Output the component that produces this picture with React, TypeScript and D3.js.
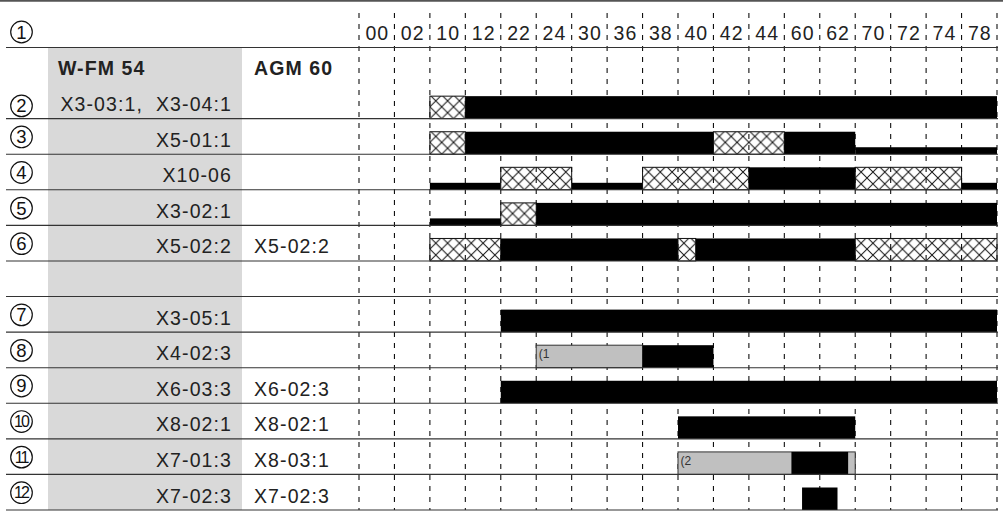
import React from "react";
import * as d3 from "d3";

const columnLabels = ["00","02","10","12","22","24","30","36","38","40","42","44","60","62","70","72","74","78"];
// layout rows: 0 = heading sub-row, 6 = empty spacer row
const rowNumbers: (number | null)[] = [null, 2, 3, 4, 5, 6, null, 7, 8, 9, 10, 11, 12];
const wfmLabels = ["W-FM 54", "X3-03:1,  X3-04:1", "X5-01:1", "X10-06", "X3-02:1", "X5-02:2", "", "X3-05:1", "X4-02:3", "X6-03:3", "X8-02:1", "X7-01:3", "X7-02:3"];
const agmLabels = ["AGM 60", "", "", "", "", "X5-02:2", "", "", "", "X6-02:3", "X8-02:1", "X8-03:1", "X7-02:3"];

type Kind = "full" | "thin" | "hatch" | "gray";
const segments: { row: number; start: number; end: number; kind: Kind }[] = [
  { row: 1, start: 2, end: 3, kind: "hatch" },
  { row: 1, start: 3, end: 18, kind: "full" },
  { row: 2, start: 2, end: 3, kind: "hatch" },
  { row: 2, start: 3, end: 10, kind: "full" },
  { row: 2, start: 10, end: 12, kind: "hatch" },
  { row: 2, start: 12, end: 14, kind: "full" },
  { row: 2, start: 14, end: 18, kind: "thin" },
  { row: 3, start: 2, end: 4, kind: "thin" },
  { row: 3, start: 4, end: 6, kind: "hatch" },
  { row: 3, start: 6, end: 8, kind: "thin" },
  { row: 3, start: 8, end: 11, kind: "hatch" },
  { row: 3, start: 11, end: 14, kind: "full" },
  { row: 3, start: 14, end: 17, kind: "hatch" },
  { row: 3, start: 17, end: 18, kind: "thin" },
  { row: 4, start: 2, end: 4, kind: "thin" },
  { row: 4, start: 4, end: 5, kind: "hatch" },
  { row: 4, start: 5, end: 18, kind: "full" },
  { row: 5, start: 2, end: 4, kind: "hatch" },
  { row: 5, start: 4, end: 9, kind: "full" },
  { row: 5, start: 9, end: 9.5, kind: "hatch" },
  { row: 5, start: 9.5, end: 14, kind: "full" },
  { row: 5, start: 14, end: 18, kind: "hatch" },
  { row: 7, start: 4, end: 18, kind: "full" },
  { row: 8, start: 5, end: 8, kind: "gray" },
  { row: 8, start: 8, end: 10, kind: "full" },
  { row: 9, start: 4, end: 18, kind: "full" },
  { row: 10, start: 9, end: 14, kind: "full" },
  { row: 11, start: 9, end: 14, kind: "gray" },
  { row: 11, start: 12.2, end: 13.8, kind: "full" },
  { row: 12, start: 12.5, end: 13.5, kind: "full" },
];
const notes = [
  { row: 8, at: 5, text: "(1" },
  { row: 11, at: 9, text: "(2" },
];

const W = 1003;
const H = 512;
const FONT = "'Liberation Sans', Arial, Helvetica, sans-serif";

export default function App() {
  const x = d3.scaleLinear().domain([0, columnLabels.length]).range([359, 997]);
  const y = d3.scaleLinear().domain([0, rowNumbers.length]).range([47.5, 510]);
  const rowH = y(1) - y(0);
  const colW = x(1) - x(0);
  const barH = 22.5;
  const thinH = 7;

  const circled = (n: number, cx: number, cy: number, key: string) => (
    <g key={key}>
      <circle cx={cx} cy={cy} r={10.8} fill="none" stroke="#111" strokeWidth={1.2} />
      <text
        x={cx + (n >= 10 ? -0.5 : 0)}
        y={cy + (n >= 10 ? 5.6 : 6.5)}
        textAnchor="middle"
        style={{ fontSize: n >= 10 ? "16px" : "18.5px", letterSpacing: n >= 10 ? "-2px" : "0px" }}
        fontFamily={FONT}
        fill="#111"
      >
        {n}
      </text>
    </g>
  );

  return (
    <svg
      width={W}
      height={H}
      style={{ position: "absolute", left: 0, top: 0, background: "#fff" }}
      fontFamily={FONT}
    >
      <defs>
        <pattern
          id="xhatch"
          patternUnits="userSpaceOnUse"
          x={x(0)}
          y={y(0)}
          width={colW / 3}
          height={rowH / 3}
        >
          <path
            d={`M0,0L${colW / 3},${rowH / 3}M${colW / 3},0L0,${rowH / 3}`}
            stroke="#111"
            strokeWidth={1}
            fill="none"
          />
        </pattern>
      </defs>
      <rect x={0} y={0} width={W} height={H} fill="#fff" />
      {/* top border */}
      <line x1={0} x2={W} y1={0.8} y2={0.8} stroke="#555" strokeWidth={1.8} />
      {/* shaded W-FM column */}
      <rect x={48} y={y(0) + 0.5} width={194} height={y(rowNumbers.length) - y(0) - 0.5} fill="#d9d9d9" />

      {/* dashed column dividers */}
      {d3.range(columnLabels.length + 1).map((i) => (
        <line
          key={"v" + i}
          x1={x(i)}
          x2={x(i)}
          y1={13}
          y2={510}
          stroke="#111"
          strokeWidth={1.1}
          strokeDasharray="5,6"
        />
      ))}

      {/* column labels */}
      {columnLabels.map((c, i) => (
        <text
          key={"c" + i}
          x={x(i + 0.5) + 0.6}
          y={40}
          textAnchor="middle"
          fontSize={19.5}
          letterSpacing={1.1}
          fill="#222"
        >
          {c}
        </text>
      ))}
      {circled(1, 21.5, 32, "h1")}

      {/* bars */}
      {segments.map((s, i) => {
        const bottom = y(s.row + 1);
        const h = s.kind === "thin" ? thinH : barH;
        const x0 = x(s.start);
        const w = x(s.end) - x0;
        if (s.kind === "hatch")
          return (
            <rect key={"s" + i} x={x0} y={bottom - h} width={w} height={h} fill="url(#xhatch)" stroke="#111" strokeWidth={1} />
          );
        if (s.kind === "gray")
          return (
            <rect key={"s" + i} x={x0} y={bottom - h} width={w} height={h} fill="#c0c0c0" stroke="#333" strokeWidth={1} />
          );
        return <rect key={"s" + i} x={x0} y={bottom - h} width={w} height={h} fill="#000" />;
      })}
      {notes.map((n, i) => (
        <text key={"n" + i} x={x(n.at) + 2.5} y={y(n.row + 1) - barH + 13} fontSize={12} fill="#333">
          {n.text}
        </text>
      ))}

      {/* horizontal row lines */}
      {rowNumbers.map((_, i) =>
        i === 0 ? null : (
          <line key={"h" + i} x1={6} x2={998} y1={y(i + 1)} y2={y(i + 1)} stroke="#333" strokeWidth={1.1} />
        )
      )}
      <line x1={6} x2={998} y1={y(0)} y2={y(0)} stroke="#333" strokeWidth={1.1} />

      {/* row labels */}
      {rowNumbers.map((n, i) => {
        const cy = (y(i) + y(i + 1)) / 2;
        const base = cy + 10.3;
        const heading = i === 0;
        return (
          <g key={"r" + i}>
            {n !== null && circled(n, 21.5, i === 1 ? cy + 5 : cy + 0.5, "rc" + i)}
            {wfmLabels[i] && (
              <text
                x={heading ? 58 : 232}
                y={heading ? base - 1 : base}
                textAnchor={heading ? "start" : "end"}
                fontSize={19.5}
                fontWeight={heading ? "bold" : "normal"}
                letterSpacing={1.1}
                fill="#222"
                style={{ whiteSpace: "pre" }}
              >
                {wfmLabels[i]}
              </text>
            )}
            {agmLabels[i] && (
              <text
                x={254}
                y={heading ? base - 1 : base}
                fontSize={19.5}
                fontWeight={heading ? "bold" : "normal"}
                letterSpacing={1.1}
                fill="#222"
              >
                {agmLabels[i]}
              </text>
            )}
          </g>
        );
      })}
    </svg>
  );
}
